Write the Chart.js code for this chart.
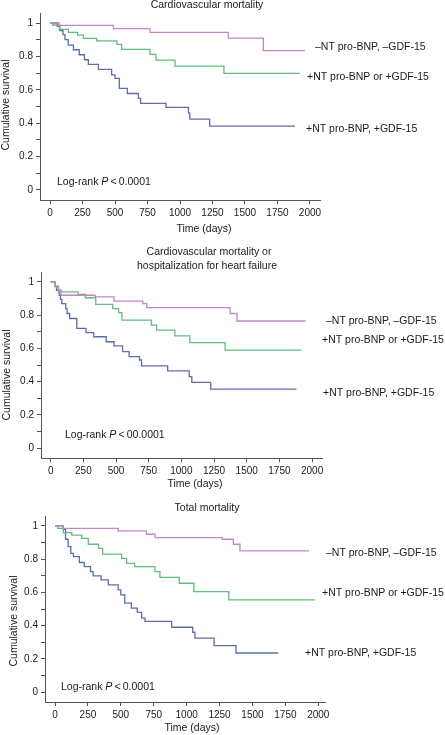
<!DOCTYPE html>
<html>
<head>
<meta charset="utf-8">
<script src="https://cdn.jsdelivr.net/npm/chart.js@4.4.0/dist/chart.umd.min.js"></script>
<style>
    body { margin: 0; background: #fff; width: 445px; height: 735px; position: relative; overflow: hidden; }
    canvas { position: absolute; left: 0; }
</style>
</head>
<body>
<canvas id="cvChart" width="445" height="240" style="top:0px"></canvas>
<canvas id="cvhfChart" width="445" height="250" style="top:240px"></canvas>
<canvas id="totalChart" width="445" height="245" style="top:490px"></canvas>
<script>
// Axis ticks
const timeTicks = [0, 250, 500, 750, 1000, 1250, 1500, 1750, 2000];
const survivalTicks = [0, 0.1, 0.2, 0.3, 0.4, 0.5, 0.6, 0.7, 0.8, 0.9, 1];

const groupLabels = ['\u2013NT pro-BNP, \u2013GDF-15', '+NT pro-BNP or +GDF-15', '+NT pro-BNP, +GDF-15'];

// Cardiovascular mortality
const cvLowTime  = [0, 70, 487, 769, 1372, 1641, 1962];
const cvLowSurv  = [1, 0.986, 0.967, 0.944, 0.909, 0.835, 0.835];
const cvMidTime  = [0, 20, 72, 141, 213, 256, 359, 515, 551, 769, 815, 962, 1338, 1923];
const cvMidSurv  = [1, 0.988, 0.962, 0.944, 0.928, 0.908, 0.893, 0.872, 0.842, 0.812, 0.778, 0.742, 0.698, 0.698];
const cvHighTime = [0, 56, 75, 100, 115, 140, 180, 225, 265, 295, 372, 474, 500, 533, 595, 680, 697, 892, 1065, 1075, 1228, 1885];
const cvHighSurv = [1, 0.98, 0.955, 0.93, 0.9, 0.868, 0.84, 0.81, 0.78, 0.752, 0.722, 0.69, 0.668, 0.608, 0.578, 0.549, 0.519, 0.495, 0.462, 0.424, 0.383, 0.383];

// Cardiovascular mortality or hospitalization for heart failure
const hfLowTime  = [0, 33, 60, 80, 340, 485, 705, 735, 1373, 1425, 1950];
const hfLowSurv  = [1, 0.975, 0.95, 0.92, 0.91, 0.885, 0.87, 0.845, 0.81, 0.765, 0.765];
const hfMidTime  = [0, 33, 60, 210, 265, 345, 475, 520, 545, 770, 810, 950, 1065, 1335, 1920];
const hfMidSurv  = [1, 0.97, 0.94, 0.925, 0.905, 0.865, 0.84, 0.815, 0.77, 0.74, 0.71, 0.675, 0.635, 0.59, 0.59];
const hfHighTime = [0, 33, 45, 65, 75, 85, 115, 125, 145, 200, 270, 330, 425, 485, 550, 600, 680, 695, 895, 1060, 1080, 1225, 1880];
const hfHighSurv = [1, 0.975, 0.95, 0.92, 0.895, 0.87, 0.84, 0.81, 0.78, 0.72, 0.695, 0.67, 0.64, 0.615, 0.58, 0.55, 0.53, 0.495, 0.465, 0.43, 0.395, 0.355, 0.355];

// Total mortality
const totLowTime  = [0, 63, 480, 695, 760, 1270, 1355, 1405, 1930];
const totLowSurv  = [1, 0.985, 0.97, 0.95, 0.93, 0.92, 0.89, 0.85, 0.85];
const totMidTime  = [0, 20, 63, 127, 203, 253, 330, 362, 506, 544, 605, 759, 797, 944, 1055, 1320, 1975];
const totMidSurv  = [1, 0.985, 0.96, 0.945, 0.925, 0.89, 0.865, 0.83, 0.805, 0.775, 0.755, 0.725, 0.69, 0.655, 0.605, 0.555, 0.555];
const totHighTime = [0, 63, 80, 100, 120, 140, 185, 222, 270, 290, 350, 405, 480, 500, 530, 580, 625, 658, 684, 886, 1046, 1063, 1208, 1375, 1695];
const totHighSurv = [1, 0.98, 0.92, 0.875, 0.835, 0.815, 0.78, 0.755, 0.725, 0.7, 0.675, 0.645, 0.615, 0.585, 0.535, 0.505, 0.48, 0.445, 0.425, 0.39, 0.36, 0.325, 0.28, 0.235, 0.235];

const COLORS = ['#c784c2', '#62bd7d', '#5b6ea6'];
const AXIS_COLOR = '#555';
const TEXT_COLOR = '#1a1a1a';
const FAMILY = '"Liberation Sans", Arial, Helvetica, sans-serif';

function toPoints(times, surv) {
    return times.map((t, i) => ({ x: t, y: surv[i] }));
}

// Draws titles, axis titles, curve labels and the log-rank note
const panelTextPlugin = {
    id: 'panelText',
    afterDraw(chart, args, opts) {
        const ctx = chart.ctx;
        ctx.save();
        ctx.fillStyle = TEXT_COLOR;
        ctx.textBaseline = 'middle';
        ctx.font = '10.5px ' + FAMILY;

        ctx.textAlign = 'center';
        opts.title.forEach(t => ctx.fillText(t.text, t.x, t.y));
        ctx.fillText('Time (days)', opts.xLabel.x, opts.xLabel.y);

        ctx.save();
        ctx.translate(opts.yLabel.x, opts.yLabel.y);
        ctx.rotate(-Math.PI / 2);
        ctx.fillText('Cumulative survival', 0, 0);
        ctx.restore();

        ctx.textAlign = 'left';
        opts.curveLabels.forEach((pos, i) => ctx.fillText(groupLabels[i], pos.x, pos.y));

        // Log-rank P < ...
        let x = opts.logRank.x;
        const y = opts.logRank.y;
        ctx.fillText('Log-rank ', x, y);
        x += ctx.measureText('Log-rank ').width;
        ctx.font = 'italic 10.5px ' + FAMILY;
        ctx.fillText('P', x, y);
        x += ctx.measureText('P').width;
        ctx.font = '10.5px ' + FAMILY;
        ctx.fillText('\u2009<\u2009' + opts.logRank.value, x, y);
        ctx.restore();
    }
};

function createPanel(canvasId, series, box, texts) {
    const ctx = document.getElementById(canvasId).getContext('2d');
    const canvasWidth = ctx.canvas.width;
    const canvasHeight = ctx.canvas.height;

    return new Chart(ctx, {
        type: 'line',
        data: {
            datasets: series.map((s, i) => ({
                label: groupLabels[i],
                data: toPoints(s[0], s[1]),
                borderColor: COLORS[i],
                borderWidth: 1.3,
                pointRadius: 0,
                stepped: 'before',
                fill: false
            }))
        },
        options: {
            responsive: false,
            animation: false,
            devicePixelRatio: 1,
            layout: {
                padding: { left: 0, top: box.top, right: canvasWidth - box.right, bottom: 0 }
            },
            plugins: {
                legend: { display: false },
                tooltip: { enabled: false },
                panelText: texts
            },
            scales: {
                x: {
                    type: 'linear',
                    min: box.xMin,
                    max: box.xMax,
                    afterBuildTicks: scale => { scale.ticks = timeTicks.map(v => ({ value: v })); },
                    afterFit: scale => { scale.height = canvasHeight - box.bottom; },
                    border: { display: true, color: AXIS_COLOR, width: 1 },
                    grid: { drawOnChartArea: false, drawTicks: true, tickLength: 4, tickColor: AXIS_COLOR },
                    ticks: {
                        autoSkip: false,
                        maxRotation: 0,
                        padding: 3,
                        color: TEXT_COLOR,
                        font: { family: FAMILY, size: 10 },
                        callback: value => String(value)
                    }
                },
                y: {
                    type: 'linear',
                    min: -0.06,
                    max: 1.06,
                    afterBuildTicks: scale => { scale.ticks = survivalTicks.map(v => ({ value: v })); },
                    afterFit: scale => { scale.width = box.left; },
                    border: { display: true, color: AXIS_COLOR, width: 1 },
                    grid: { drawOnChartArea: false, drawTicks: true, tickLength: 4, tickColor: AXIS_COLOR },
                    ticks: {
                        autoSkip: false,
                        padding: 3,
                        color: TEXT_COLOR,
                        font: { family: FAMILY, size: 10 },
                        callback: value => {
                            const tenths = Math.round(value * 10);
                            if (tenths % 2 !== 0) return '';
                            if (tenths === 10) return '1';
                            if (tenths === 0) return '0';
                            return (tenths / 10).toFixed(1);
                        }
                    }
                }
            }
        },
        plugins: [panelTextPlugin]
    });
}

createPanel('cvChart',
    [[cvLowTime, cvLowSurv], [cvMidTime, cvMidSurv], [cvHighTime, cvHighSurv]],
    { left: 40, right: 320, top: 13, bottom: 200, xMin: -77, xMax: 2077 },
    {
        title: [{ text: 'Cardiovascular mortality', x: 207, y: 5 }],
        xLabel: { x: 204, y: 229 },
        yLabel: { x: 6, y: 105 },
        curveLabels: [{ x: 315, y: 47 }, { x: 307, y: 77 }, { x: 306, y: 129 }],
        logRank: { x: 57, y: 182, value: '0.0001' }
    });

createPanel('cvhfChart',
    [[hfLowTime, hfLowSurv], [hfMidTime, hfMidSurv], [hfHighTime, hfHighSurv]],
    { left: 41, right: 322, top: 32, bottom: 218, xMin: -74, xMax: 2076 },
    {
        title: [
            { text: 'Cardiovascular mortality or', x: 209, y: 12 },
            { text: 'hospitalization for heart failure', x: 207, y: 26 }
        ],
        xLabel: { x: 195, y: 244 },
        yLabel: { x: 7, y: 135 },
        curveLabels: [{ x: 326, y: 81 }, { x: 322, y: 100 }, { x: 323, y: 153 }],
        logRank: { x: 65, y: 195, value: '00.0001' }
    });

createPanel('totalChart',
    [[totLowTime, totLowSurv], [totMidTime, totMidSurv], [totHighTime, totHighSurv]],
    { left: 45, right: 325, top: 26, bottom: 212, xMin: -76, xMax: 2051 },
    {
        title: [{ text: 'Total mortality', x: 207, y: 18 }],
        xLabel: { x: 192, y: 238 },
        yLabel: { x: 14, y: 131 },
        curveLabels: [{ x: 326, y: 63 }, { x: 322, y: 103 }, { x: 305, y: 163 }],
        logRank: { x: 61, y: 197, value: '0.0001' }
    });
</script>
</body>
</html>
